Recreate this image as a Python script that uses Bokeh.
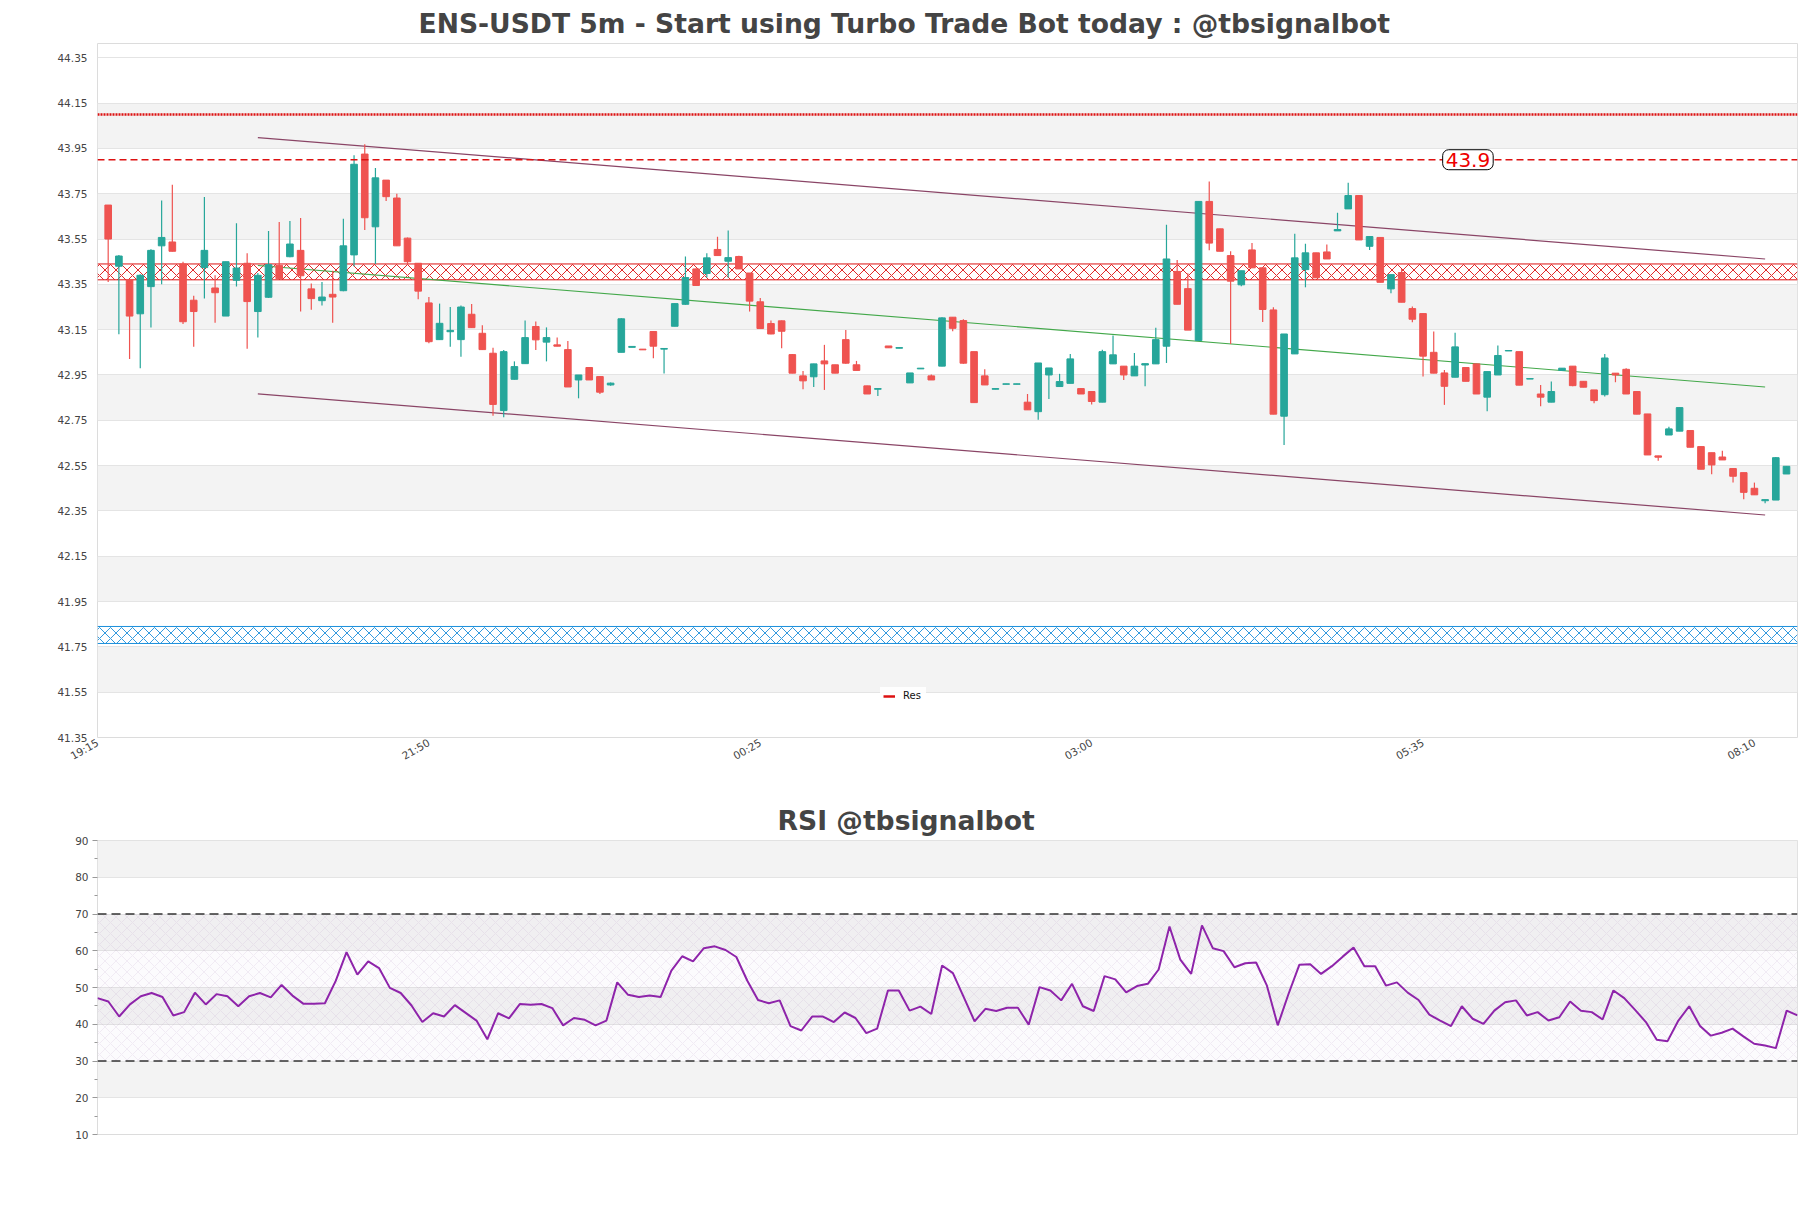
import math
from bokeh.plotting import figure
from bokeh.models import (Range1d, FixedTicker, BoxAnnotation, Span, Label, Legend,
                          LegendItem, ColumnDataSource, PrintfTickFormatter)
from bokeh.layouts import column
from bokeh.embed import file_html
from bokeh.resources import INLINE

# ---------------- data ----------------
bar_index = list(range(1, 159))
opens = [43.70, 43.43, 43.37, 43.22, 43.34, 43.52, 43.537, 43.44, 43.28, 43.424,
         43.334, 43.21, 43.368, 43.443, 43.23, 43.293, 43.434, 43.472, 43.50, 43.33,
         43.278, 43.306, 43.322, 43.48, 43.925, 43.604, 43.81, 43.731, 43.554, 43.443,
         43.268, 43.106, 43.141, 43.106, 43.218, 43.134, 43.046, 42.793, 42.931, 43.0,
         43.164, 43.095, 43.083, 43.062, 42.928, 42.983, 42.943, 42.906, 43.05, 43.072,
         43.064, 43.142, 43.064, 43.165, 43.262, 43.418, 43.398, 43.504, 43.452, 43.473,
         43.40, 43.273, 43.177, 43.189, 43.04, 42.946, 42.942, 43.012, 42.995, 43.106,
         42.995, 42.902, 42.887, 43.078, 43.068, 42.915, 42.977, 42.946, 42.989, 43.205,
         43.19, 43.053, 42.946, 42.887, 42.909, 42.909, 42.83, 42.788, 42.95, 42.899,
         42.913, 42.89, 42.877, 42.83, 42.999, 42.989, 42.946, 42.994, 42.999, 43.077,
         43.407, 43.331, 43.102, 43.716, 43.595, 43.477, 43.348, 43.502, 43.423, 43.237,
         42.768, 43.043, 43.415, 43.489, 43.493, 43.586, 43.683, 43.742, 43.518, 43.557,
         43.33, 43.402, 43.243, 43.221, 43.05, 42.959, 42.94, 42.983, 42.999, 42.852,
         42.95, 43.056, 43.053, 42.932, 42.866, 42.83, 42.97, 42.989, 42.922, 42.884,
         42.863, 42.958, 42.975, 42.877, 42.778, 42.593, 42.685, 42.702, 42.705, 42.634,
         42.607, 42.588, 42.537, 42.519, 42.45, 42.395, 42.398, 42.513]
highs = [43.70, 43.48, 43.37, 43.395, 43.505, 43.72, 43.79, 43.45, 43.30, 43.735,
         43.39, 43.45, 43.62, 43.487, 43.40, 43.585, 43.625, 43.63, 43.643, 43.354,
         43.36, 43.41, 43.64, 43.92, 43.968, 43.863, 43.81, 43.75, 43.557, 43.443,
         43.294, 43.265, 43.25, 43.257, 43.263, 43.17, 43.07, 43.06, 43.01, 43.19,
         43.186, 43.16, 43.115, 43.10, 42.95, 42.983, 42.943, 42.917, 43.2, 43.076,
         43.064, 43.142, 43.068, 43.265, 43.473, 43.42, 43.487, 43.56, 43.588, 43.476,
         43.40, 43.29, 43.19, 43.19, 43.043, 42.968, 43.0, 43.083, 42.995, 43.149,
         43.012, 42.902, 42.89, 43.078, 43.071, 42.959, 42.98, 42.952, 43.205, 43.205,
         43.196, 43.053, 42.975, 42.89, 42.911, 42.911, 42.866, 43.003, 42.981, 42.955,
         43.043, 42.892, 42.877, 43.061, 43.124, 42.989, 43.047, 43.0, 43.158, 43.613,
         43.458, 43.399, 43.716, 43.804, 43.595, 43.496, 43.41, 43.533, 43.423, 43.249,
         43.131, 43.573, 43.529, 43.489, 43.526, 43.666, 43.798, 43.742, 43.561, 43.557,
         43.393, 43.418, 43.252, 43.221, 43.142, 42.972, 43.136, 42.983, 43.0, 42.965,
         43.08, 43.058, 43.053, 42.934, 42.906, 42.921, 42.98, 42.989, 42.922, 42.884,
         43.043, 42.958, 42.98, 42.877, 42.778, 42.593, 42.721, 42.806, 42.705, 42.634,
         42.607, 42.616, 42.537, 42.519, 42.475, 42.40, 42.588, 42.547]
lows = [43.36, 43.13, 43.02, 42.98, 43.16, 43.35, 43.495, 43.175, 43.075, 43.287,
        43.18, 43.21, 43.34, 43.066, 43.115, 43.29, 43.375, 43.47, 43.23, 43.238,
        43.257, 43.18, 43.32, 43.43, 43.59, 43.44, 43.718, 43.52, 43.438, 43.284,
        43.09, 43.106, 43.075, 43.03, 43.159, 43.06, 42.77, 42.763, 42.93, 43.0,
        43.06, 43.01, 43.077, 42.897, 42.847, 42.928, 42.866, 42.903, 43.05, 43.072,
        43.061, 43.024, 42.957, 43.165, 43.26, 43.345, 43.38, 43.477, 43.38, 43.418,
        43.23, 43.155, 43.13, 43.068, 42.958, 42.887, 42.897, 42.884, 42.958, 43.0,
        42.97, 42.866, 42.857, 43.07, 43.068, 42.915, 42.977, 42.928, 42.989, 43.143,
        43.0, 42.828, 42.906, 42.887, 42.909, 42.909, 42.796, 42.752, 42.844, 42.899,
        42.913, 42.866, 42.82, 42.83, 42.999, 42.928, 42.946, 42.9, 42.999, 43.003,
        43.262, 43.148, 43.10, 43.50, 43.496, 43.087, 43.342, 43.423, 43.184, 42.777,
        42.641, 43.043, 43.337, 43.379, 43.462, 43.586, 43.683, 43.546, 43.502, 43.359,
        43.311, 43.271, 43.183, 42.943, 42.958, 42.818, 42.94, 42.922, 42.866, 42.79,
        42.95, 43.056, 42.905, 42.932, 42.812, 42.83, 42.97, 42.90, 42.896, 42.825,
        42.855, 42.918, 42.866, 42.777, 42.597, 42.572, 42.685, 42.702, 42.631, 42.534,
        42.512, 42.575, 42.476, 42.401, 42.421, 42.384, 42.398, 42.513]
closes = [43.55, 43.475, 43.21, 43.39, 43.50, 43.557, 43.496, 43.185, 43.23, 43.50,
          43.313, 43.45, 43.422, 43.274, 43.39, 43.437, 43.375, 43.528, 43.388, 43.287,
          43.294, 43.294, 43.52, 43.88, 43.644, 43.82, 43.737, 43.52, 43.45, 43.32,
          43.097, 43.178, 43.147, 43.25, 43.159, 43.062, 42.82, 43.053, 42.987, 43.115,
          43.105, 43.115, 43.077, 42.897, 42.95, 42.928, 42.874, 42.914, 43.198, 43.076,
          43.061, 43.077, 43.067, 43.265, 43.38, 43.345, 43.467, 43.477, 43.468, 43.418,
          43.276, 43.155, 43.131, 43.143, 42.958, 42.924, 42.999, 42.999, 42.958, 43.002,
          42.97, 42.866, 42.89, 43.07, 43.071, 42.959, 42.98, 42.928, 43.202, 43.156,
          43.002, 42.828, 42.906, 42.89, 42.911, 42.911, 42.796, 43.003, 42.981, 42.921,
          43.021, 42.866, 42.833, 43.053, 43.039, 42.95, 42.989, 43.0, 43.106, 43.462,
          43.262, 43.148, 43.716, 43.532, 43.496, 43.364, 43.41, 43.423, 43.239, 42.777,
          43.131, 43.467, 43.489, 43.379, 43.462, 43.592, 43.742, 43.546, 43.561, 43.359,
          43.393, 43.271, 43.196, 43.033, 42.958, 42.9, 43.074, 42.922, 42.866, 42.965,
          43.036, 43.058, 42.905, 42.934, 42.852, 42.877, 42.98, 42.903, 42.896, 42.837,
          43.025, 42.95, 42.866, 42.777, 42.597, 42.587, 42.712, 42.806, 42.631, 42.534,
          42.553, 42.575, 42.503, 42.432, 42.421, 42.40, 42.585, 42.547]
rsi = [47.1, 46.2, 42.1, 45.4, 47.6, 48.5, 47.4, 42.4, 43.3, 48.6,
       45.4, 48.2, 47.6, 44.9, 47.6, 48.5, 47.3, 50.7, 47.8, 45.6,
       45.6, 45.7, 51.8, 59.6, 53.5, 57.1, 55.3, 49.9, 48.5, 45.1,
       40.6, 43.0, 42.1, 45.2, 43.1, 41.0, 35.9, 43.0, 41.6, 45.5,
       45.3, 45.5, 44.4, 39.7, 41.7, 41.2, 39.7, 41.0, 51.4, 48.0,
       47.4, 47.8, 47.4, 54.6, 58.5, 57.1, 60.7, 61.2, 60.2, 58.3,
       51.9, 46.6, 45.7, 46.5, 39.5, 38.3, 42.1, 42.1, 40.6, 43.2,
       41.7, 37.6, 38.8, 49.2, 49.2, 43.7, 44.8, 42.8, 56.0, 53.9,
       47.4, 40.8, 44.2, 43.6, 44.5, 44.5, 39.9, 50.1, 49.2, 46.5,
       51.0, 44.9, 43.6, 53.1, 52.2, 48.7, 50.4, 51.0, 54.9, 66.6,
       57.6, 53.7, 66.9, 60.7, 59.9, 55.5, 56.6, 56.8, 50.5, 39.7,
       48.3, 56.2, 56.3, 53.7, 55.8, 58.4, 60.9, 55.8, 55.8, 50.5,
       51.4, 48.6, 46.6, 42.6, 41.0, 39.5, 44.9, 41.5, 40.1, 43.7,
       46.0, 46.5, 42.4, 43.3, 41.0, 41.9, 46.2, 43.7, 43.3, 41.3,
       49.2, 47.1, 43.9, 40.6, 35.8, 35.4, 41.0, 44.9, 39.5, 36.9,
       37.7, 38.8, 36.7, 34.7, 34.2, 33.5, 43.7, 42.4]

time_tick_index = [0, 31, 62, 93, 124, 155]
time_tick_labels = ["19:15", "21:50", "00:25", "03:00", "05:35", "08:10"]
price_ticks = [41.35, 41.55, 41.75, 41.95, 42.15, 42.35, 42.55, 42.75, 42.95,
               43.15, 43.35, 43.55, 43.75, 43.95, 44.15, 44.35]
rsi_ticks = [10, 20, 30, 40, 50, 60, 70, 80, 90]
rsi_minor = [15, 25, 35, 45, 55, 65, 75, 85]

res_zone = [43.37, 43.44]
sup_zone = [41.765, 41.84]
res_dotted = 44.10
res_dashed = 43.9
res_label = "43.9"
channel_x = [15, 156]
channel_upper = [43.998, 43.462]
channel_mid = [43.433, 42.897]
channel_lower = [42.867, 42.332]
rsi_levels = [30, 70]

# ---------------- styles ----------------
UP = "#26a69a"
DOWN = "#ef5350"
RED = "#dd1111"
BLUE = "#1b8fdc"
BAND = "#f3f3f3"
GRID = "#e4e4e4"
TXT = "#444444"
FONT = "DejaVu Sans"
X_END = 159.03

# ---------------- main chart ----------------
p = figure(frame_width=1700, frame_height=694,
           x_range=Range1d(0, X_END), y_range=Range1d(41.35, 44.413),
           output_backend="svg", toolbar_location=None,
           min_border_left=97, min_border_right=14, min_border_top=43, min_border_bottom=53)
p.title.text = "ENS-USDT 5m - Start using Turbo Trade Bot today : @tbsignalbot"
p.title.text_font = FONT
p.title.text_font_style = "bold"
p.title.text_font_size = "26.6px"
p.title.text_color = TXT
p.title.text_line_height = 1.0
p.title.align = "left"
p.title.offset = 321
p.title.standoff = 10

p.background_fill_color = "white"
p.border_fill_color = "white"
p.outline_line_color = "#dcdcdc"
p.xgrid.visible = False
p.ygrid.grid_line_color = GRID
p.yaxis.ticker = FixedTicker(ticks=price_ticks)
p.yaxis.formatter = PrintfTickFormatter(format="%.2f")
p.xaxis.ticker = FixedTicker(ticks=time_tick_index)
p.xaxis.major_label_overrides = {t: l for t, l in zip(time_tick_index, time_tick_labels)}
p.xaxis.major_label_orientation = math.pi / 6
for ax in (p.xaxis, p.yaxis):
    ax.axis_line_color = None
    ax.major_tick_line_color = None
    ax.minor_tick_line_color = None
    ax.major_tick_out = 0
    ax.major_tick_in = 0
    ax.minor_tick_out = 0
    ax.minor_tick_in = 0
    ax.major_label_text_font = FONT
    ax.major_label_text_color = TXT
    ax.major_label_text_font_size = "10.5px"
p.yaxis.major_label_standoff = 10
p.xaxis.major_label_standoff = 4

for k in range(1, len(price_ticks) - 1, 2):
    p.add_layout(BoxAnnotation(bottom=price_ticks[k], top=price_ticks[k + 1],
                               fill_color=BAND, fill_alpha=1, line_alpha=0, level="image"))

# zones
p.add_layout(BoxAnnotation(bottom=res_zone[0], top=res_zone[1], fill_alpha=0, line_alpha=0,
                           hatch_pattern="diagonal_cross", hatch_color=RED, hatch_alpha=0.9,
                           hatch_scale=11, hatch_weight=1, level="underlay"))
p.add_layout(BoxAnnotation(bottom=sup_zone[0], top=sup_zone[1], fill_alpha=0, line_alpha=0,
                           hatch_pattern="diagonal_cross", hatch_color=BLUE, hatch_alpha=0.9,
                           hatch_scale=11, hatch_weight=1, level="underlay"))
p.line(x=[0, X_END], y=[res_zone[1], res_zone[1]], line_color=RED, line_width=1)
p.line(x=[0, X_END], y=[res_zone[0], res_zone[0]], line_color=RED, line_width=1)
for yv in sup_zone:
    p.add_layout(Span(location=yv, dimension="width", line_color=BLUE, line_width=1, level="underlay"))

p.add_layout(Span(location=res_dotted, dimension="width", line_color=RED,
                  line_width=2.5, line_dash="2 1"))
p.add_layout(Span(location=res_dashed, dimension="width", line_color=RED,
                  line_width=1.3, line_dash="7 4"))

# channel
p.line(channel_x, channel_upper, line_color="#8a4566", line_width=1.2)
p.line(channel_x, channel_lower, line_color="#8a4566", line_width=1.2)
p.line(channel_x, channel_mid, line_color="#43a84a", line_width=1.1)

# candles
colors = [UP if c >= o else DOWN for o, c in zip(opens, closes)]
src = ColumnDataSource(dict(x=bar_index, o=opens, h=highs, l=lows, c=closes,
                            top=[max(o, c) for o, c in zip(opens, closes)],
                            bot=[min(o, c) for o, c in zip(opens, closes)],
                            color=colors))
p.segment(x0="x", y0="h", x1="x", y1="l", source=src, line_color="color", line_width=1.2)
p.vbar(x="x", top="top", bottom="bot", width=0.62, source=src,
       fill_color="color", line_color="color", line_width=1)

lab = Label(x=128.2, y=res_dashed, text=res_label, text_color="#ee0000", text_font=FONT,
            text_font_size="20px", text_align="center", text_baseline="middle",
            background_fill_color="white", border_line_color="black", border_line_width=1,
            padding=3, border_radius=6)
p.add_layout(lab)

legend_r = p.line(x=[float("nan")], y=[float("nan")], line_color=RED, line_width=2.5)
leg = Legend(items=[LegendItem(label="Res", renderers=[legend_r])], location=(783, 33),
             label_text_font=FONT, label_text_font_size="10px", label_text_color="#111111",
             glyph_width=12, glyph_height=10, padding=3, spacing=0, margin=0,
             label_standoff=8, background_fill_alpha=0.9, border_line_alpha=0,
             label_height=10)
p.add_layout(leg)

# ---------------- RSI chart ----------------
r = figure(frame_width=1700, frame_height=294,
           x_range=Range1d(1, 158), y_range=Range1d(10, 90),
           output_backend="svg", toolbar_location=None,
           min_border_left=97, min_border_right=14, min_border_top=50, min_border_bottom=74)
r.title.text = "RSI @tbsignalbot"
r.title.text_font = FONT
r.title.text_font_style = "bold"
r.title.text_font_size = "26.6px"
r.title.text_color = TXT
r.title.align = "left"
r.title.offset = 680
r.title.standoff = 8.5
r.outline_line_color = "#dcdcdc"
r.xaxis.visible = False
r.xgrid.visible = False
r.ygrid.grid_line_color = GRID
r.yaxis.ticker = FixedTicker(ticks=rsi_ticks, minor_ticks=rsi_minor)
r.yaxis.axis_line_color = None
r.yaxis.major_tick_line_color = "#999999"
r.yaxis.minor_tick_line_color = "#999999"
r.yaxis.major_tick_in = 0
r.yaxis.major_tick_out = 5
r.yaxis.minor_tick_in = 0
r.yaxis.minor_tick_out = 3
r.yaxis.major_label_text_font = FONT
r.yaxis.major_label_text_color = TXT
r.yaxis.major_label_text_font_size = "10.5px"
r.yaxis.major_label_standoff = 4

for k in range(1, len(rsi_ticks) - 1, 2):
    r.add_layout(BoxAnnotation(bottom=rsi_ticks[k], top=rsi_ticks[k + 1],
                               fill_color=BAND, fill_alpha=1, line_alpha=0, level="image"))
r.add_layout(BoxAnnotation(bottom=rsi_levels[0], top=rsi_levels[1], fill_color="#8e44ad",
                           fill_alpha=0.025, line_alpha=0, hatch_pattern="diagonal_cross",
                           hatch_color="#a27bb5", hatch_alpha=0.2, hatch_scale=11,
                           hatch_weight=0.6, level="underlay"))
for lv in rsi_levels:
    r.add_layout(Span(location=lv, dimension="width", line_color="#333333",
                      line_width=1.3, line_dash="9 5"))
r.line(bar_index, rsi, line_color="#8e24aa", line_width=2)

layout = column(p, r, spacing=0)
open("out.html", "w").write(file_html(layout, INLINE))
